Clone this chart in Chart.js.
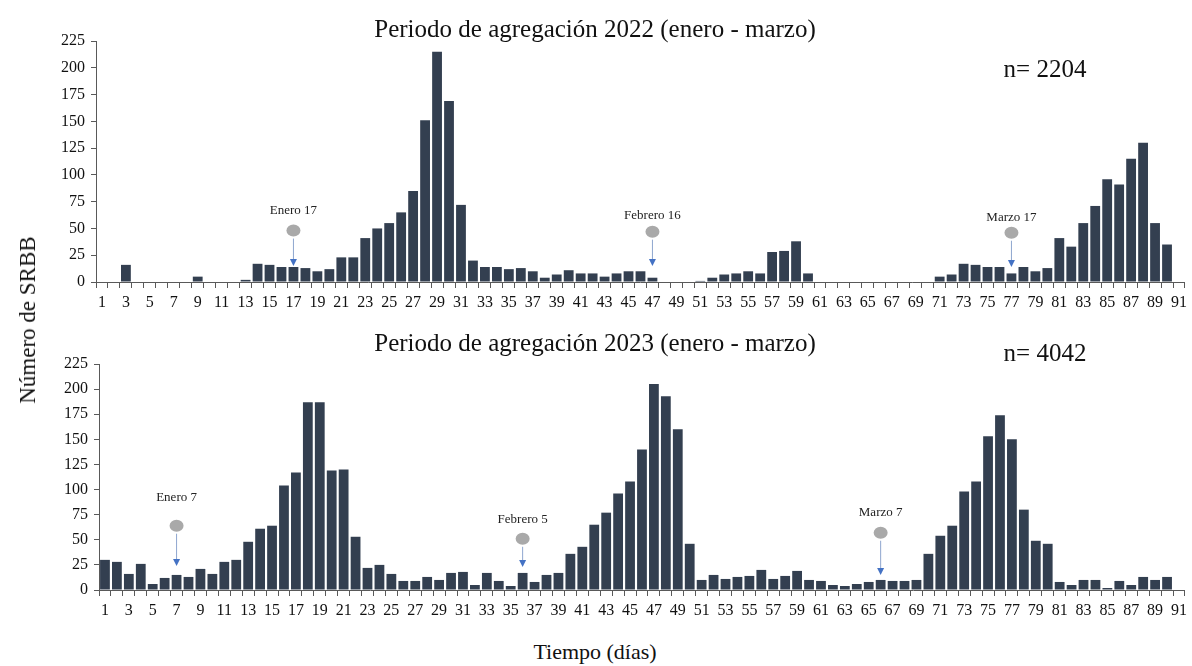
<!DOCTYPE html>
<html>
<head>
<meta charset="utf-8">
<script src="https://cdn.jsdelivr.net/npm/chart.js@4.4.0/dist/chart.umd.min.js"></script>
<style>
  body { margin: 0; background: #fff; width: 1192px; height: 666px; position: relative; overflow: hidden; font-family: "Liberation Serif", "Times New Roman", serif; color: #111; }
  #top { position: absolute; left: 0; top: 0; }
  #bottom { position: absolute; left: 0; top: 310px; }
  .ytitle { position: absolute; left: 28px; top: 320px; transform: translate(-50%, -50%) rotate(-90deg); font-size: 23px; white-space: nowrap; }
  .xtitle { position: absolute; left: 595px; top: 652px; transform: translate(-50%, -50%); font-size: 22px; white-space: nowrap; }
</style>
</head>
<body>
<canvas id="top" width="1192" height="310"></canvas>
<canvas id="bottom" width="1192" height="320"></canvas>
<div class="ytitle">Número de SRBB</div>
<div class="xtitle">Tiempo (días)</div>
<script>
// ---- data ----
const days = [
  1, 2, 3, 4, 5, 6, 7, 8, 9, 10, 11, 12, 13, 14, 15, 16, 17, 18, 19, 20,
  21, 22, 23, 24, 25, 26, 27, 28, 29, 30, 31, 32, 33, 34, 35, 36, 37, 38, 39, 40,
  41, 42, 43, 44, 45, 46, 47, 48, 49, 50, 51, 52, 53, 54, 55, 56, 57, 58, 59, 60,
  61, 62, 63, 64, 65, 66, 67, 68, 69, 70, 71, 72, 73, 74, 75, 76, 77, 78, 79, 80,
  81, 82, 83, 84, 85, 86, 87, 88, 89, 90, 91
];

// 2022 (n = 2204)
const counts2022 = [
  0, 0, 16, 0, 0, 0, 0, 0, 5, 0, 0, 0, 2, 17, 16, 14, 14, 13, 10, 12,
  23, 23, 41, 50, 55, 65, 85, 151, 215, 169, 72, 20, 14, 14, 12, 13, 10, 4, 7, 11,
  8, 8, 5, 8, 10, 10, 4, 0, 0, 0, 1, 4, 7, 8, 10, 8, 28, 29, 38, 8,
  0, 0, 0, 0, 0, 0, 0, 0, 0, 0, 5, 7, 17, 16, 14, 14, 8, 14, 10, 13,
  41, 33, 55, 71, 96, 91, 115, 130, 55, 35, 0
];

// 2023 (n = 4042)
const counts2023 = [
  30, 28, 16, 26, 6, 12, 15, 13, 21, 16, 28, 30, 48, 61, 64, 104, 117, 187, 187, 119,
  120, 53, 22, 25, 16, 9, 9, 13, 10, 17, 18, 5, 17, 9, 4, 17, 8, 15, 17, 36,
  43, 65, 77, 96, 108, 140, 205, 193, 160, 46, 10, 15, 11, 13, 14, 20, 11, 14, 19, 10,
  9, 5, 4, 6, 8, 10, 9, 9, 10, 36, 54, 64, 98, 108, 153, 174, 150, 80, 49, 46,
  8, 5, 10, 10, 2, 9, 5, 13, 10, 13, 0
];

const yTicks = [0, 25, 50, 75, 100, 125, 150, 175, 200, 225];

// marker annotations: day, label, and levels (in counts) of label / dot / arrow tip
const markers2022Days = [17, 47, 77];
const markers2022Labels = ['Enero 17', 'Febrero 16', 'Marzo 17'];
const markers2022Text = [67, 62, 60];
const markers2022Dot = [48, 47, 46];
const markers2022Tip = [15, 15, 14];

const markers2023Days = [7, 36, 66];
const markers2023Labels = ['Enero 7', 'Febrero 5', 'Marzo 7'];
const markers2023Text = [92, 70, 77];
const markers2023Dot = [64, 51, 57];
const markers2023Tip = [24, 23, 15];

const BAR = '#333f50';
const AXIS = '#595959';
const FONT = '"Liberation Serif", "Times New Roman", serif';

// ---- plugins ----
function panelPlugin(title, nText, titleY, nY) {
  return {
    id: 'panelText',
    afterDraw(chart) {
      const ctx = chart.ctx;
      ctx.save();
      ctx.fillStyle = '#111';
      ctx.textBaseline = 'middle';
      ctx.textAlign = 'center';
      ctx.font = `25px ${FONT}`;
      ctx.fillText(title, 595, titleY);
      ctx.fillText(nText, 1045, nY);
      ctx.restore();
    },
  };
}

function markerPlugin(mDays, mLabels, mText, mDot, mTip) {
  return {
    id: 'markers',
    afterDatasetsDraw(chart) {
      const { ctx, scales: { x, y } } = chart;
      ctx.save();
      mDays.forEach((d, i) => {
        const px = x.getPixelForValue(days.indexOf(d));
        const ty = y.getPixelForValue(mText[i]);
        const dy = y.getPixelForValue(mDot[i]);
        const tip = y.getPixelForValue(mTip[i]);
        ctx.fillStyle = '#222';
        ctx.font = `13px ${FONT}`;
        ctx.textAlign = 'center';
        ctx.textBaseline = 'middle';
        ctx.fillText(mLabels[i], px, ty);
        ctx.fillStyle = '#a9a9a9';
        ctx.beginPath();
        ctx.ellipse(px, dy, 7, 6, 0, 0, Math.PI * 2);
        ctx.fill();
        ctx.strokeStyle = '#8ea6cf';
        ctx.lineWidth = 1;
        ctx.beginPath();
        ctx.moveTo(px, dy + 8);
        ctx.lineTo(px, tip - 6);
        ctx.stroke();
        ctx.fillStyle = '#4472c4';
        ctx.beginPath();
        ctx.moveTo(px - 3.5, tip - 7);
        ctx.lineTo(px + 3.5, tip - 7);
        ctx.lineTo(px, tip);
        ctx.closePath();
        ctx.fill();
      });
      ctx.restore();
    },
  };
}

function makeChart(canvasId, values, cfg) {
  return new Chart(document.getElementById(canvasId), {
    type: 'bar',
    data: {
      labels: days,
      datasets: [{
        data: values,
        backgroundColor: BAR,
        borderWidth: 0,
        barPercentage: 0.82,
        categoryPercentage: 1,
      }],
    },
    options: {
      responsive: false,
      animation: false,
      layout: { padding: { top: cfg.padTop, right: 3, left: 0, bottom: 0 } },
      plugins: {
        legend: { display: false },
        tooltip: { enabled: false },
        title: { display: false },
      },
      scales: {
        x: {
          grid: { drawOnChartArea: false, drawTicks: true, tickLength: 6, color: AXIS, offset: true },
          border: { color: AXIS, width: 1 },
          ticks: {
            autoSkip: false,
            maxRotation: 0,
            minRotation: 0,
            padding: 5,
            color: '#111',
            font: { family: FONT, size: 16 },
            callback: (v, i) => (i % 2 === 0 ? String(days[i]) : ''),
          },
          afterFit: (s) => { s.height = cfg.xHeight; },
        },
        y: {
          min: 0,
          max: 225,
          afterBuildTicks: (s) => { s.ticks = yTicks.map(v => ({ value: v })); },
          grid: { drawOnChartArea: false, drawTicks: true, tickLength: 5, color: AXIS },
          border: { color: AXIS, width: 1 },
          ticks: {
            padding: 6,
            color: '#111',
            font: { family: FONT, size: 16 },
          },
          afterFit: (s) => { s.width = cfg.yWidth; },
        },
      },
    },
    plugins: [cfg.panel, cfg.markers],
  });
}

makeChart('top', counts2022, {
  padTop: 41, xHeight: 28, yWidth: 96,
  panel: panelPlugin('Periodo de agregación 2022 (enero - marzo)', 'n= 2204', 30, 70),
  markers: markerPlugin(markers2022Days, markers2022Labels, markers2022Text, markers2022Dot, markers2022Tip),
});

makeChart('bottom', counts2023, {
  padTop: 54, xHeight: 40, yWidth: 99,
  panel: panelPlugin('Periodo de agregación 2023 (enero - marzo)', 'n= 4042', 34, 44),
  markers: markerPlugin(markers2023Days, markers2023Labels, markers2023Text, markers2023Dot, markers2023Tip),
});
</script>
</body>
</html>
